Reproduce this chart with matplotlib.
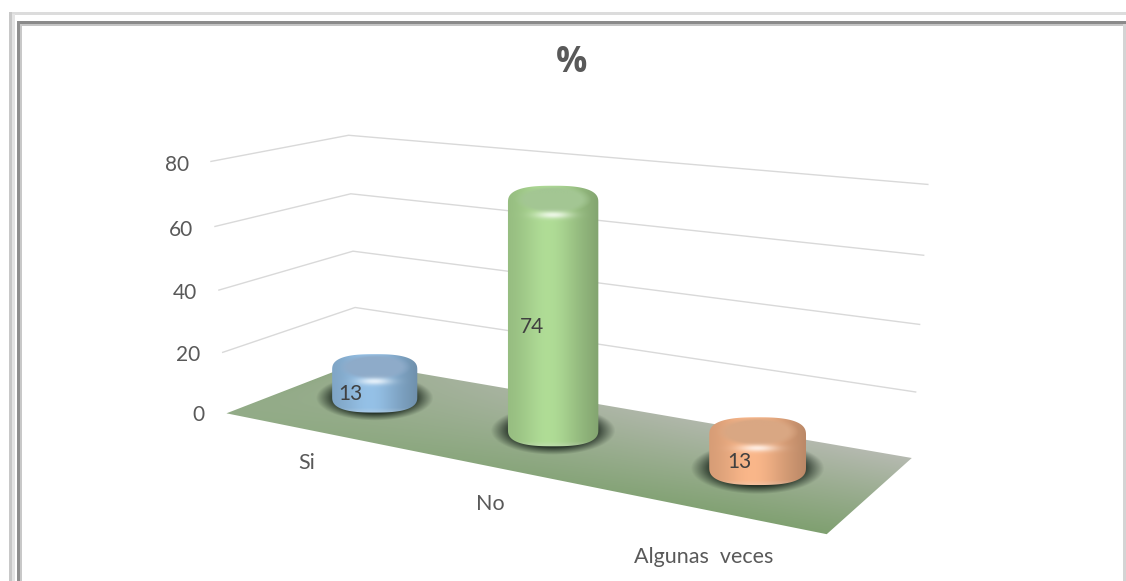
import matplotlib
matplotlib.use("Agg")
import matplotlib.pyplot as plt
from matplotlib.patches import Polygon, Rectangle
import numpy as np

# Datos
categories = ["Si", "No", "Algunas  veces"]
values = [13, 74, 13]
ticks = [0, 20, 40, 60, 80]
title = "%"

body_colors = ["#92bde2", "#acd893", "#f5b387"]
cap_colors = ["#8eabc9", "#a3c693", "#d9a783"]

plt.rcParams["font.family"] = ["Lato", "DejaVu Sans"]

W, H = 1126, 581
fig = plt.figure(figsize=(W / 100, H / 100), dpi=100)
ax = fig.add_axes([0, 0, 1, 1])
ax.set_xlim(0, W)
ax.set_ylim(H, 0)
ax.axis("off")

# camara: (u, v, valor) -> pixel, ajustada a las esquinas del piso y paredes
calib = [
    (0, 0, 0, 227, 413), (0, 1, 0, 357, 363), (1, 1, 0, 911, 458), (1, 0, 0, 827, 534),
    (0, 0, 80, 211, 162), (0, 1, 80, 349, 135), (1, 1, 80, 927, 184),
    (0, 0, 40, 218, 290), (0, 1, 40, 353, 251), (1, 1, 40, 921, 325),
]
rows = []
for u, v, w, x, y in calib:
    rows.append([u, v, w, 1, 0, 0, 0, 0, -x * u, -x * v, -x * w, -x])
    rows.append([0, 0, 0, 0, u, v, w, 1, -y * u, -y * v, -y * w, -y])
P = np.linalg.svd(np.array(rows, dtype=float))[2][-1].reshape(3, 4)


def project(u, v, w=0):
    p = P @ np.array([u, v, w, 1.0])
    return p[0] / p[2], p[1] / p[2]


def hex_rgb(c):
    return np.array(matplotlib.colors.to_rgb(c))


# marco
ax.add_patch(Rectangle((9, 12), W - 9, 2.5, color="#dcdcdc", lw=0))
ax.add_patch(Rectangle((17, 21), W - 17, 2.5, color="#8a8a8a", lw=0))
ax.add_patch(Rectangle((19, 23.5), W - 19, 2, color="#c4c4c4", lw=0))
ax.add_patch(Rectangle((9, 12), 2.5, H - 12, color="#c8c8c8", lw=0))
ax.add_patch(Rectangle((11.5, 14), 3.5, H - 14, color="#e4e4e4", lw=0))
ax.add_patch(Rectangle((17, 21), 2.5, H - 21, color="#8f8f8f", lw=0))
ax.add_patch(Rectangle((19.5, 23.5), 2.5, H - 23.5, color="#c8c8c8", lw=0))
ax.add_patch(Rectangle((1123, 24), 3, H - 24, color="#d4d4d4", lw=0))

# lineas de la grilla
for t in ticks[1:]:
    pts = [project(0, 0, t), project(0, 1, t), project(1, 1, t)]
    ax.plot([p[0] for p in pts], [p[1] for p in pts], color="#d9d9d9", lw=1.0, zorder=1)
for t in ticks:
    x, y = project(0, 0, t)
    ax.text(x - 22, y + 2 + t / 40, str(t), ha="right", va="center", fontsize=15, color="#595959")

# piso con degradado
corners = [project(0, 0), project(1, 0), project(1, 1), project(0, 1)]
floor = Polygon(corners, closed=True, fc="none", ec="none", transform=ax.transData)
ax.add_patch(floor)
xs = np.arange(215, 925)
ys = np.arange(355, 545)
X, Y = np.meshgrid(xs, ys)
Hinv = np.linalg.inv(P[:, [0, 1, 3]])
q = Hinv @ np.stack([X.ravel(), Y.ravel(), np.ones(X.size)])
U = (q[0] / q[2]).reshape(X.shape).clip(0, 1)[..., None]
V = (q[1] / q[2]).reshape(X.shape).clip(0, 1)[..., None]
front = (1 - U) * hex_rgb("#93ac88") + U * hex_rgb("#7fa070")
back = (1 - U ** 0.35) * hex_rgb("#8ca67f") + U ** 0.35 * hex_rgb("#b6bab1")
tex = (1 - V) * front + V * back
im = ax.imshow(tex, extent=(xs[0], xs[-1], ys[-1], ys[0]), zorder=2, aspect="auto")
im.set_clip_path(floor)
ax.set_xlim(0, W)
ax.set_ylim(H, 0)

# cilindros
for i, val in enumerate(values):
    u = (i + 0.5) / 3 - 0.018 + 0.004 * i
    depth = 0.56
    xc, yb = project(u, depth)
    x1 = project(u - 0.075, depth)[0]
    x2 = project(u + 0.075, depth)[0]
    a = 0.5 * (x2 - x1) / 2 + 24
    b = a * 0.37
    yt = yb - ((yb - project(u, depth, val)[1]) * 0.995 - 11.2)

    # sombra
    xs = np.arange(int(xc - a * 1.5), int(xc + a * 1.5))
    ys = np.arange(int(yb - b * 1.7), int(yb + b * 1.9))
    X, Y = np.meshgrid(xs, ys)
    r = np.hypot((X - xc) / (a * 1.39), (Y - yb - 1) / (b * 1.48))
    alpha = np.clip((1.0 - r) / 0.34, 0, 1) * 0.95
    img = np.zeros(X.shape + (4,))
    img[..., :3] = hex_rgb("#18241b")
    img[..., 3] = alpha
    ax.imshow(img, extent=(xs[0], xs[-1], ys[-1], ys[0]), zorder=3, aspect="auto")

    # contorno con tapa redondeada
    th = np.linspace(0, np.pi, 60)
    n = 0.75
    cx = np.sign(np.cos(th)) * np.abs(np.cos(th)) ** n
    sy = np.abs(np.sin(th)) ** n
    top = np.c_[xc + a * cx, yt - b * sy]
    bottom = np.c_[xc - a * cx, yb + b * sy]
    outline = np.r_[top, bottom]
    patch = Polygon(outline, closed=True, fc="none", ec="none")
    ax.add_patch(patch)

    xs = np.arange(int(xc - a - 2), int(xc + a + 3))
    ys = np.arange(int(yt - b - 2), int(yb + b + 3))
    X, Y = np.meshgrid(xs, ys)
    t = (X - xc) / a
    shade = 0.86 + 0.16 * np.exp(-((t + 0.12) / 0.6) ** 2) - 0.10 * np.clip(t, 0, 1) ** 2
    rgb = hex_rgb(body_colors[i])[None, None, :] * shade[..., None]
    # tapa
    capr = np.hypot((X - xc) / (a * 0.86), (Y - yt + b * 0.2) / (b * 0.85))
    cap = np.clip((1 - capr) / 0.25, 0, 1)[..., None]
    rgb = rgb * (1 - cap) + hex_rgb(cap_colors[i]) * cap
    # brillo
    glow = np.exp(-((X - xc) / (a * 0.38)) ** 2 - ((Y - yt - b * 0.72) / 3.5) ** 2)[..., None]
    rgb = rgb * (1 - 0.75 * glow) + 0.75 * glow
    # borde inferior
    rim = np.clip((Y - yb - b * 0.72) / (b * 0.3), 0, 1)[..., None] * 0.25
    rgb = rgb * (1 - rim) + rim * 0.9
    im = ax.imshow(rgb.clip(0, 1), extent=(xs[0], xs[-1], ys[-1], ys[0]), zorder=4, aspect="auto",
                   interpolation="bilinear")
    im.set_clip_path(patch)

    ax.text(xc - 24 + 3 * i, (yt + yb) / 2 + 11, str(val), ha="center", va="center", fontsize=15,
            color="#404040", zorder=5)

ax.set_xlim(0, W)
ax.set_ylim(H, 0)

# etiquetas de categorias
label_offsets = [(-3, 33), (-4, 37), (-4, 47)]
for i, name in enumerate(categories):
    x, y = project((i + 0.5) / 3, 0)
    dx, dy = label_offsets[i]
    ax.text(x + dx, y + dy, name, ha="center", va="center", fontsize=15.5, color="#595959")

ax.text(572, 63, title, ha="center", va="center", fontsize=25, fontweight="bold", color="#595959",
        family=["Open Sans", "DejaVu Sans"])

fig.savefig("out.png", dpi=100)
